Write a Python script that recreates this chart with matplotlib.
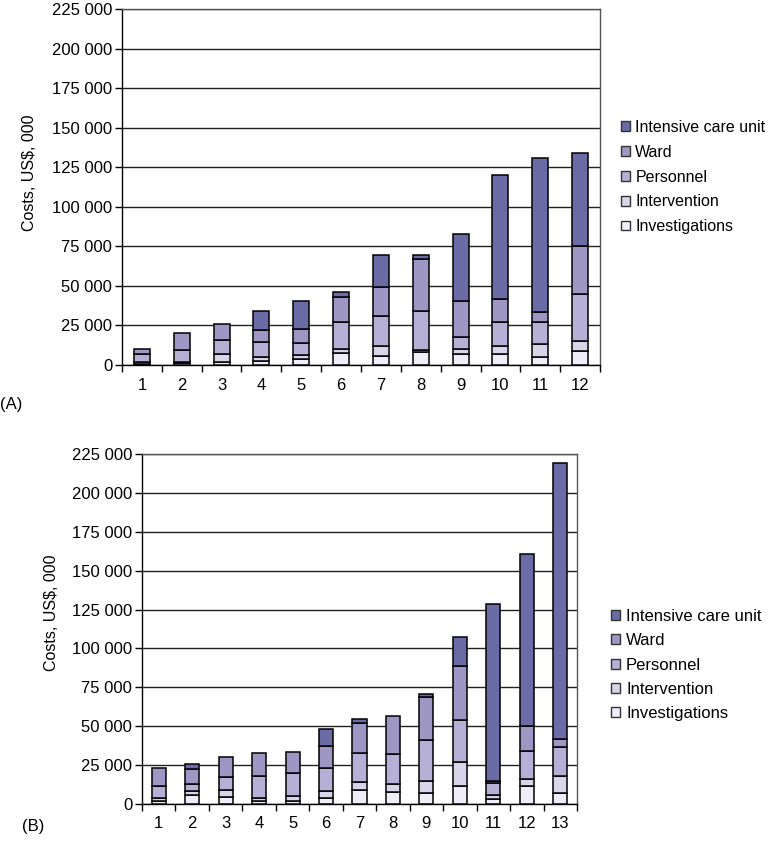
import matplotlib
matplotlib.use("Agg")
import matplotlib.pyplot as plt
from matplotlib.patches import Rectangle
from matplotlib.ticker import FuncFormatter, MultipleLocator
import numpy as np

plt.rcParams['font.family'] = ['Liberation Sans', 'DejaVu Sans']

series_names = ["Investigations", "Intervention", "Personnel", "Ward", "Intensive care unit"]
series_colors = ["#EFEDF7", "#D8D4EA", "#B6B0D6", "#9E97C4", "#6B6BA6"]

# Panel A (12 patients)
cats_A = [str(i) for i in range(1, 13)]
inv_A = [800, 1000, 1700, 2500, 4000, 7900, 5900, 8200, 7200, 7200, 4900, 9100]
interv_A = [1000, 1000, 5000, 2700, 2100, 2100, 6300, 1500, 2700, 5000, 8100, 6300]
pers_A = [5400, 7300, 9000, 9600, 7500, 16900, 18500, 24300, 7700, 14900, 14100, 29300]
ward_A = [3100, 11000, 10400, 7500, 9400, 16300, 18700, 32800, 23000, 14700, 6300, 30500]
icu_A = [0, 0, 0, 11900, 17500, 2900, 20100, 2700, 42400, 78200, 97600, 58800]

# Panel B (13 patients)
cats_B = [str(i) for i in range(1, 14)]
inv_B = [1700, 5600, 4300, 2100, 2100, 3800, 8800, 7900, 7100, 11800, 3200, 11400, 7300]
interv_B = [1900, 2600, 4700, 1500, 2800, 4300, 5100, 5200, 7500, 15400, 2800, 4900, 10500]
pers_B = [8200, 4700, 8100, 14600, 14800, 14800, 18900, 18800, 26800, 27000, 7300, 17800, 19100]
ward_B = [11100, 9400, 13200, 14500, 13600, 14700, 19500, 24500, 27600, 34700, 1700, 15800, 5100]
icu_B = [0, 3400, 0, 0, 0, 10500, 2600, 0, 1900, 18500, 113800, 110800, 177000]

y_max = 225000
y_step = 25000
ylabel = "Costs, US$, 000"

W, H = 770, 850
fig = plt.figure(figsize=(W / 100, H / 100), dpi=100)


def px_axes(left, top, right, bottom):
    return fig.add_axes([left / W, 1 - bottom / H, (right - left) / W, (bottom - top) / H])


def draw_panel(ax, cats, series, width):
    x = np.arange(len(cats))
    bottom = np.zeros(len(cats))
    for vals, col in zip(series, series_colors):
        vals = np.array(vals, dtype=float)
        mask = vals > 0
        ax.bar(x[mask], vals[mask], width=width, bottom=bottom[mask], color=col,
               edgecolor="black", linewidth=1.1, zorder=3)
        bottom += vals
    ax.set_xlim(-0.5, len(cats) - 0.5)
    ax.set_ylim(0, y_max)
    ax.yaxis.set_major_locator(MultipleLocator(y_step))
    ax.yaxis.set_major_formatter(FuncFormatter(lambda v, p: f"{int(v):,}".replace(",", " ")))
    ax.set_xticks(x)
    ax.set_xticklabels(cats)
    ax.set_xticks(np.arange(-0.5, len(cats)), minor=True)
    ax.tick_params(axis="x", which="major", length=0, pad=9, labelsize=12)
    ax.tick_params(axis="x", which="minor", length=5, width=1, direction="out")
    ax.tick_params(axis="y", length=5, width=1, direction="out", labelsize=12, pad=2)
    ax.grid(axis="y", color="#222222", linewidth=1.0, zorder=0)
    ax.set_axisbelow(True)
    for s in ["left", "bottom"]:
        ax.spines[s].set_color("black")
        ax.spines[s].set_linewidth(1.0)
    for s in ["top", "right"]:
        ax.spines[s].set_color("#555555")
        ax.spines[s].set_linewidth(1.0)


axA = px_axes(122, 9, 600, 365)
draw_panel(axA, cats_A, [inv_A, interv_A, pers_A, ward_A, icu_A], 0.4)
axB = px_axes(142, 454, 577, 804)
draw_panel(axB, cats_B, [inv_B, interv_B, pers_B, ward_B, icu_B], 0.42)

handles = [Rectangle((0, 0), 1, 1, facecolor=c, edgecolor="#333333", linewidth=1.0)
           for c in series_colors][::-1]
labels = series_names[::-1]


def add_legend(x_left, y_center, fs, spacing):
    fig.legend(handles, labels, loc="center left",
               bbox_to_anchor=(x_left / W, 1 - y_center / H),
               frameon=False, fontsize=fs, handlelength=0.55, handleheight=0.55,
               handletextpad=0.35, labelspacing=spacing, borderpad=0, borderaxespad=0)


add_legend(621, 177, 11.5, 0.62)
add_legend(611, 665, 12, 0.55)

fig.text(30 / W, 1 - 173 / H, ylabel, rotation=90, ha="center", va="center", fontsize=11.5)
fig.text(52 / W, 1 - 613 / H, ylabel, rotation=90, ha="center", va="center", fontsize=11.5)
fig.text(0 / W, 1 - 405 / H, "(A)", ha="left", va="center", fontsize=12)
fig.text(22 / W, 1 - 827 / H, "(B)", ha="left", va="center", fontsize=12)

fig.savefig("out.png", dpi=100)
